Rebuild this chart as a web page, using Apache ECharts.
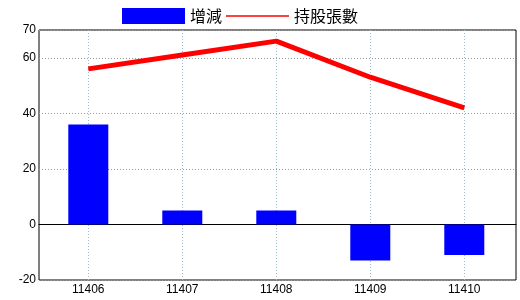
<!DOCTYPE html>
<html><head><meta charset="utf-8">
<script src="https://cdn.jsdelivr.net/npm/echarts@6/dist/echarts.min.js"></script>
<style>html,body{margin:0;padding:0;background:#fff}#c{width:520px;height:300px}</style>
</head><body><div id="c"></div>
<script>
const categories = ['11406','11407','11408','11409','11410'];
const changeValues = [36, 5, 5, -13, -11];
const holdingValues = [56, 61, 66, 53, 42];
const yMin = -20, yMax = 70, yInterval = 20;

const numFont = "'Liberation Sans Narrow', 'Liberation Sans', Arial, sans-serif";
const cjkFont = "'Noto Sans CJK TC', 'Noto Sans CJK SC', sans-serif";

const chart = echarts.init(document.getElementById('c'), null, {renderer:'canvas'});
chart.setOption({
  animation: false,
  backgroundColor: '#fff',
  legend: {
    left: 122, top: 8, padding: 0,
    itemWidth: 63, itemHeight: 16, itemGap: 4,
    textStyle: {fontFamily: cjkFont, fontSize: 16, color: '#000'},
    data: [
      {name: '增減', icon: 'rect', itemStyle: {color: '#0000ff'}},
      {name: '持股張數', icon: 'path://M0,0L100,0L100,2.2L0,2.2Z', itemStyle: {color: '#ff0000', borderWidth: 0}}
    ]
  },
  grid: [
    {left: 39, top: 30, right: 4, bottom: 20, show: true, borderColor: '#000', borderWidth: 1, containLabel: false},
    {left: 88.3, top: 30, right: 55.7, bottom: 20, containLabel: false}
  ],
  xAxis: [
    {gridIndex: 0, type: 'value', min: 0, max: 1, axisLabel: {show: false}, axisTick: {show: false}, splitLine: {show: false},
     axisLine: {show: true, onZero: true, lineStyle: {color: '#000', width: 1}}},
    {gridIndex: 1, type: 'category', data: categories, boundaryGap: false,
     axisLine: {show: false}, axisTick: {show: false},
     axisLabel: {fontFamily: numFont, fontSize: 12, color: '#000', margin: 4},
     splitLine: {show: true, lineStyle: {color: '#9bbccc', type: [1, 2], width: 1}}}
  ],
  yAxis: [
    {gridIndex: 0, type: 'value', min: yMin, max: yMax, interval: yInterval,
     axisLine: {show: false}, axisTick: {show: false},
     axisLabel: {fontFamily: numFont, fontSize: 12, color: '#000', margin: 3},
     splitLine: {show: true, lineStyle: {color: '#999', type: [1, 2], width: 1}}},
    {gridIndex: 1, type: 'value', min: yMin, max: yMax, interval: yInterval, show: false, splitLine: {show: false}}
  ],
  series: [
    {name: '增減', type: 'bar', xAxisIndex: 1, yAxisIndex: 1, data: changeValues, barWidth: 40, clip: false,
     itemStyle: {color: '#0000ff'}, z: 1},
    {name: '持股張數', type: 'line', xAxisIndex: 1, yAxisIndex: 1, data: holdingValues, clip: false,
     symbol: 'none', showSymbol: false, lineStyle: {color: '#ff0000', width: 5}, itemStyle: {color: '#ff0000'}, z: 3}
  ]
});
</script></body></html>
